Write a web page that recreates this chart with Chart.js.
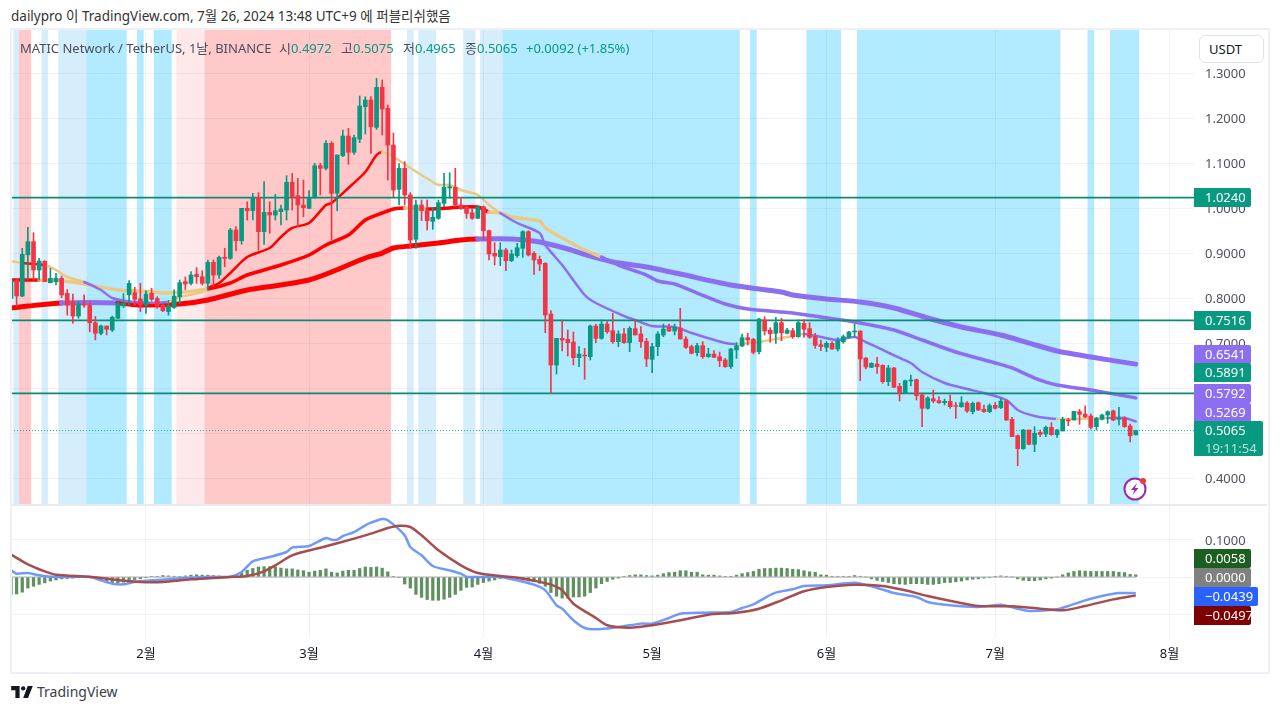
<!DOCTYPE html>
<html lang="ko">
<head>
<meta charset="utf-8">
<title>MATICUSDT</title>
<script src="https://cdn.jsdelivr.net/npm/chart.js@4/dist/chart.umd.js"></script>
<style>
  html, body { margin: 0; padding: 0; background: #fff; }
  body { width: 1280px; height: 712px; position: relative; overflow: hidden;
         font-family: "Noto Sans", "Noto Sans CJK KR", sans-serif; font-size: 13px; color: #131722; }
  canvas { position: absolute; left: 11px; }
  #priceChart { top: 29px; }
  #macdChart { top: 505px; }
  .abs { position: absolute; white-space: nowrap; line-height: 18px; }
  .frame { position: absolute; left: 10px; top: 28px; width: 1256px; height: 642px; border: 2px solid #eef0f6; pointer-events: none; }
  .divider { position: absolute; left: 11px; top: 504px; width: 1256px; height: 2px; background: #e8eaf2; }
  .up { color: #089981; }
  .gray { color: #4a4e5a; }
  .tag { position: absolute; left: 1194px; width: 57px; height: 19px; line-height: 18px; color: #fff; box-sizing: border-box;
         padding-left: 11px; border-radius: 0 2px 2px 0; }
  .usdt { position: absolute; left: 1199px; top: 35px; width: 65px; height: 28px; box-sizing: border-box; border: 1px solid #e0e3eb;
          border-radius: 6px; line-height: 26px; padding-left: 9px; background: #fff; }
</style>
</head>
<body>
<canvas id="priceChart" width="1257" height="475"></canvas>
<canvas id="macdChart" width="1257" height="166"></canvas>
<div class="frame"></div>
<div class="divider"></div>

<div class="abs" style="left:11px;top:7px;color:#333;font-size:13.5px">dailypro 이 TradingView.com, 7월 26, 2024 13:48 UTC+9 에 퍼블리쉬했음</div>
<div class="abs gray" style="left:20px;top:39px">MATIC Network / TetherUS, 1날, BINANCE</div>
<div class="abs" style="left:279px;top:39px"><span class="gray">시</span><span class="up">0.4972</span></div>
<div class="abs" style="left:341px;top:39px"><span class="gray">고</span><span class="up">0.5075</span></div>
<div class="abs" style="left:403px;top:39px"><span class="gray">저</span><span class="up">0.4965</span></div>
<div class="abs" style="left:465px;top:39px"><span class="gray">종</span><span class="up">0.5065</span></div>
<div class="abs up" style="left:526px;top:39px">+0.0092 (+1.85%)</div>

<div class="usdt">USDT</div>

<div class="tag" style="top:188px;background:#089981">1.0240</div>
<div class="tag" style="top:311px;background:#089981">0.7516</div>
<div class="tag" style="top:345px;background:#8c6ff0">0.6541</div>
<div class="tag" style="top:363px;background:#089981">0.5891</div>
<div class="tag" style="top:384px;background:#8c6ff0">0.5792</div>
<div class="tag" style="top:403px;background:#8c6ff0">0.5269</div>
<div class="tag" style="top:421px;width:69px;height:35px;background:#089981">0.5065<br><span style="opacity:.7">19:11:54</span></div>
<div class="tag" style="top:549px;background:#1b5e20">0.0058</div>
<div class="tag" style="top:568px;background:#808080">0.0000</div>
<div class="tag" style="top:587px;width:64px;background:#2962ff">−0.0439</div>
<div class="tag" style="top:606px;background:#7f0000">−0.0497</div>

<svg class="abs" style="left:1123px;top:476px" width="26" height="26" viewBox="0 0 26 26">
  <circle cx="12" cy="13" r="10.5" fill="#fff" stroke="#9c27b0" stroke-width="2"/>
  <path d="M14 7l-6 7h3.5l-2 5 6-7h-3.5z" fill="#9c27b0"/>
  <circle cx="20" cy="5" r="3" fill="#f23645"/>
</svg>

<svg class="abs" style="left:11px;top:686px" width="22" height="12" viewBox="0 0 36 20">
  <path d="M14 20H7V7H0V0h14zM28 20h-8l7.5-20H36z" fill="#131722"/>
  <circle cx="20" cy="4" r="3.6" fill="#131722"/>
</svg>
<div class="abs" style="left:37px;top:683px;font-size:14px;color:#3a3e4a">TradingView</div>

<script>
// daily bars, index 0 = Jan 8 2024, index 200 = Jul 26 2024
const opens = [
  .8003,.841,.8055,.897,.9263,.8633,.8833,.835,.8374,.8448,
  .8115,.793,.761,.7878,.785,.746,.7226,.7389,.73,.756,
  .7833,.808,.8129,.799,.7855,.8115,.8,.7855,.771,.78,
  .804,.8374,.8337,.8537,.8485,.8337,.8804,.8522,.8915,.8892,
  .9522,.9285,1.0004,.9952,1.0248,.9485,.9914,.9855,.9929,.9966,
  1.0581,1.0285,1.0078,1.0004,1.0248,1.0952,1.0892,1.1448,1.0337,1.1174,
  1.1611,1.1248,1.1544,1.2263,1.2411,1.1803,1.2692,1.2226,1.1411,1.0426,
  1.0893,1.03,.9315,1.0078,.9952,.9715,.9781,1.0115,1.0456,1.047,
  1.0078,1.0026,.9907,.9781,1.0041,.9507,.9004,.893,.9078,.8841,
  .8952,.9115,.9485,.9004,.887,.8781,.7656,.6522,.7115,.7093,
  .7033,.6685,.6744,.6707,.7389,.7115,.7433,.7285,.7041,.7211,
  .7019,.733,.7211,.7048,.6648,.693,.7189,.7352,.7278,.7344,
  .71,.693,.6796,.6952,.6707,.6767,.6707,.6633,.6485,.6856,
  .6944,.713,.7093,.6819,.7522,.7296,.7226,.7463,.7226,.7285,
  .7152,.7448,.733,.7152,.6974,.6915,.7004,.6878,.7041,.7137,
  .7256,.7278,.6678,.647,.6544,.6515,.6152,.6456,.6048,.5893,
  .6167,.6196,.5856,.556,.5774,.573,.5685,.5715,.5619,.5596,
  .5678,.5485,.5685,.5537,.5485,.5626,.5574,.5722,.5315,.4952,
  .4663,.5078,.4759,.5026,.4989,.5137,.4974,.5056,.53,.53,
  .5485,.5433,.5389,.5152,.5315,.5411,.55,.5315,.5337,.5167,
  .4972
];
const closes = [
  .841,.8055,.898,.9263,.8633,.8833,.8374,.8448,.8448,.8078,
  .7855,.761,.7878,.785,.746,.7226,.7389,.7315,.7581,.7892,
  .7892,.8337,.798,.7855,.81,.798,.7833,.773,.7833,.8055,
  .8352,.8322,.8522,.8485,.8337,.8804,.8522,.8915,.8892,.9522,
  .9285,1.0004,.9952,1.0248,.9485,.9914,.9855,.9952,.9989,1.0581,
  1.0248,1.0078,1.0018,1.0248,1.0952,1.0892,1.1448,1.0337,1.1189,1.1611,
  1.1248,1.1574,1.2278,1.2411,1.1818,1.2692,1.221,1.1411,1.0411,1.0893,
  1.03,.93,1.0078,.9952,.973,.9804,1.013,1.047,1.0485,1.0078,
  1.0004,.9893,.9781,1.0041,.9507,.8989,.8944,.9078,.8841,.8989,
  .913,.9485,.8967,.8856,.8767,.7633,.6522,.7115,.7078,.7019,
  .6685,.6767,.6722,.7389,.7115,.7433,.7263,.7041,.7211,.7019,
  .7337,.7189,.7041,.6656,.693,.7211,.7322,.7278,.7359,.71,
  .6915,.6781,.6952,.6707,.6767,.6693,.6619,.6485,.6878,.6952,
  .713,.7078,.6804,.7544,.7278,.7219,.7463,.7241,.73,.7152,
  .7463,.7315,.7137,.6959,.693,.7004,.6878,.7056,.7152,.7256,
  .7278,.6656,.6478,.6559,.6485,.6152,.6456,.6026,.5893,.6174,
  .6189,.5841,.556,.5789,.5722,.5685,.5715,.5596,.5604,.5685,
  .55,.567,.5522,.5485,.5619,.556,.5722,.53,.493,.4663,
  .5078,.4759,.5004,.4981,.5137,.4974,.5078,.5315,.5278,.5493,
  .5426,.5367,.5137,.5337,.5411,.5485,.53,.5337,.5152,.4952,
  .5065
];
const highs = [
  .842,.842,.9115,.958,.946,.889,.8833,.867,.856,.85,
  .82,.81,.793,.808,.793,.76,.741,.7389,.761,.793,
  .811,.84,.825,.834,.817,.823,.804,.788,.796,.819,
  .841,.848,.86,.8685,.8618,.8856,.8856,.8944,.9115,.9559,
  .9596,1.0004,1.015,1.0337,1.0352,1.0596,1.015,1.0314,1.0078,1.0729,
  1.0781,1.067,1.0633,1.0396,1.1004,1.1004,1.1507,1.1485,1.1189,1.1744,
  1.1781,1.1633,1.25,1.2485,1.2485,1.2892,1.2855,1.23,1.1678,1.1,
  1.1041,1.0352,1.0189,1.0189,1.0189,1.0026,1.0189,1.0781,1.0796,1.0893,
  1.0248,1.0056,1.0004,1.0056,1.0056,.9522,.9241,.9241,.9115,.9078,
  .9226,.9507,.9507,.9041,.8944,.8796,.773,.7115,.7522,.73,
  .7256,.693,.6893,.7411,.7433,.7522,.7485,.767,.7285,.7337,
  .7374,.7522,.7374,.7115,.7004,.7263,.7433,.7433,.7433,.7781,
  .7152,.6967,.7004,.7041,.6893,.6841,.6811,.667,.6893,.7019,
  .7211,.7226,.7115,.7559,.7596,.7352,.7581,.7559,.7337,.7337,
  .7522,.7537,.7463,.7226,.7078,.7041,.7041,.713,.7189,.727,
  .7433,.7278,.6685,.6574,.6693,.653,.6515,.647,.6115,.6189,
  .63,.6211,.5878,.5819,.5967,.5819,.5767,.5856,.5693,.5819,
  .5707,.57,.57,.5633,.5656,.5693,.5781,.5744,.5359,.4967,
  .5093,.5078,.5152,.5078,.5167,.5241,.5093,.5359,.5337,.5493,
  .5537,.5611,.5433,.5359,.5433,.5507,.5522,.5581,.5374,.5211,
  .5075
];
const lows = [
  .8,.782,.804,.842,.841,.841,.8374,.835,.83,.802,
  .763,.745,.756,.78,.726,.708,.719,.719,.7263,.756,
  .78,.786,.785,.771,.767,.7944,.778,.771,.763,.778,
  .789,.82,.83,.8337,.83,.8204,.8263,.8448,.8707,.887,
  .9063,.9204,.9744,.9744,.9078,.9204,.9448,.9744,.9633,.9744,
  .9966,.9596,.9818,1.0004,1.0226,1.03,1.0855,.93,.995,1.1152,
  1.098,1.1204,1.1463,1.1655,1.1226,1.1759,1.1633,1.0633,1.0263,1.0078,
  1.0078,.9115,.9115,.973,.9522,.9537,.9759,1.004,1.0226,1.004,
  .9981,.9781,.9759,.9774,.93,.8856,.8744,.873,.8619,.8819,
  .8915,.8915,.8944,.8537,.8619,.7241,.5893,.6322,.6833,.6722,
  .6522,.6485,.6204,.6633,.7019,.7093,.7226,.7004,.693,.7004,
  .6819,.7189,.6915,.6485,.6352,.673,.7152,.7263,.7189,.71,
  .6893,.6767,.6722,.667,.6693,.6685,.6485,.647,.6448,.667,
  .693,.6967,.6767,.6767,.7189,.7026,.7,.7063,.7211,.7115,
  .7137,.7137,.7115,.6893,.6841,.6819,.687,.6833,.7004,.713,
  .7152,.6174,.6433,.6463,.6337,.6115,.6063,.6026,.5722,.5893,
  .6056,.5744,.5152,.5537,.5685,.567,.5633,.5559,.5337,.5581,
  .547,.5433,.5507,.547,.5463,.5544,.5552,.5285,.493,.4285,
  .4648,.4744,.4596,.493,.493,.4959,.4915,.5056,.5174,.53,
  .5204,.5352,.51,.5078,.53,.5226,.5285,.5189,.5137,.4811,
  .4965
];

// moving averages, read at the days where the line bends
const ma20Days = [0,2,6,8,10,13,16,18,22,28,30,34,35,37,39,42,46,48,50,53,56,57,60,63,65,66,68,71,75,76,78,80,83,85,87,90,94,95,98,102,104,109,111,114,118,121,127,129,133,135,139,141,144,147,150,152,155,158,160,162,166,170,173,177,179,182,186,189,195,198,200];
const ma20 = [.8833,.8789,.8744,.8633,.8478,.8367,.8189,.8011,.7922,.7922,.8033,.8144,.8233,.8344,.8567,.8922,.9122,.9367,.9567,.9678,1.0078,1.0122,1.0456,1.081,1.1189,1.1255,1.1144,1.09,1.0589,1.0522,1.0522,1.0411,1.03,1.0078,.99,.9678,.9456,.9189,.8744,.8078,.79,.7611,.7522,.7389,.7367,.7233,.7011,.6989,.7033,.7078,.7167,.7211,.7144,.7078,.7144,.7033,.6856,.6678,.6567,.6367,.6122,.5989,.59,.5744,.5522,.5389,.5322,.5322,.5344,.5344,.5269];
const ma50Days = [0,5,9,12,19,23,28,35,39,42,48,53,56,60,63,66,68,70,74,78,80,83,85,87,89,94,95,98,102,105,108,113,115,118,122,127,131,137,139,144,150,157,162,168,175,178,182,186,192,200];
const ma50 = [.8411,.8411,.8389,.8344,.8189,.8167,.8122,.8211,.8344,.8522,.8744,.8967,.9189,.9411,.9744,.99,.9989,1.0011,.9989,1.0011,1.0033,1.0033,.9922,.99,.981,.9722,.9567,.9344,.9078,.8922,.8744,.8522,.8389,.8322,.8122,.7878,.7767,.77,.7678,.7589,.7478,.73,.7078,.6811,.6567,.6456,.6233,.6078,.5967,.5792];
const ma200Days = [0,3,9,19,23,30,35,42,48,53,57,63,66,68,71,76,80,83,89,94,99,103,107,113,119,128,137,139,145,151,157,163,169,176,181,186,192,200];
const ma200 = [.7789,.7833,.79,.79,.7856,.7878,.7967,.8189,.83,.8411,.8589,.89,.901,.9122,.9167,.9233,.93,.9322,.9322,.9256,.91,.8944,.8811,.87,.8544,.83,.8144,.8078,.7989,.7922,.7789,.7567,.7367,.7189,.701,.6833,.67,.6541];

// colour state of each average: state kinds[n] lasts until day ends[n]
const ma20StateEnds = [1,3,13,28,35,66,87,129,141,186,192,200];
const ma20States = ['gold','red','gold','purple','gold','red','gold','purple','gold','purple','gold','purple'];
const ma50StateEnds = [5,30,70,74,85,105,200];
const ma50States = ['red','gold','red','gold','red','gold','purple'];
const ma200StateEnds = [9,19,83,200];
const ma200States = ['red','purple','red','purple'];

const levels = [1.024, .7516, .5891];
const lastPrice = .5065;

// background state bands, in days
const bandStarts = [1,2,6,9,14,23,26,30,35,71,73,81,84,88,132,142,151,192,196];
const bandEnds = [1,3,6,13,20,23,28,34,67,71,75,82,87,129,132,147,186,192,200];
const bandKinds = ['pale','pink','pale','pale','cyan','cyan','cyan','blush','pink','pale','pale','pale','pale','cyan','cyan','cyan','cyan','cyan','cyan'];

// MACD pane
const macdDays = [0,1,3,5,8,14,16,18,20,22,25,28,31,35,39,41,43,46,49,50,53,56,57,58,59,61,63,64,66,67,70,71,73,75,78,80,81,84,87,90,93,95,97,98,100,102,104,108,112,114,117,119,123,128,130,132,134,136,139,141,145,150,153,157,161,163,167,172,176,179,181,186,188,191,194,197,200];
const macdLine = [.018,.009,.0108,.0045,0,0,-.009,-.018,-.0198,-.0135,-.009,-.0063,-.0027,0,.0009,.0135,.0423,.054,.0676,.0793,.0838,.1054,.1009,.1009,.1108,.1216,.1396,.1468,.1568,.1532,.1126,.0811,.0586,.0297,.018,.009,.0009,0,0,-.009,-.0207,-.036,-.0766,-.0856,-.117,-.1378,-.1414,-.135,-.126,-.126,-.1108,-.0991,-.0964,-.0946,-.0838,-.0739,-.0568,-.0423,-.0333,-.0243,-.0225,-.0153,-.0252,-.0432,-.0541,-.0676,-.0766,-.0811,-.0748,-.0856,-.0919,-.0874,-.0784,-.0631,-.0514,-.0432,-.0439];
const signalDays = [0,3,6,8,14,18,23,27,32,39,42,45,47,50,56,61,64,67,69,71,73,76,80,83,87,90,93,96,98,100,104,106,110,114,119,124,129,133,137,141,145,150,155,159,163,168,172,178,183,187,191,196,200];
const signalLine = [.0604,.0342,.0153,.0063,.0009,-.0063,-.0135,-.0135,-.0063,0,.0027,.0153,.0315,.0586,.0829,.1036,.1171,.1324,.1387,.1351,.1126,.0721,.0315,.0108,.0027,-.0018,-.0099,-.0207,-.036,-.0721,-.1108,-.1306,-.1369,-.1306,-.1171,-.1018,-.0964,-.0856,-.0631,-.0387,-.027,-.0207,-.0243,-.036,-.0514,-.0676,-.0784,-.0793,-.0856,-.0901,-.0784,-.0604,-.0497];
const histogram = [
  -.047,-.046,-.041,-.03,-.025,-.02,-.016,-.011,-.008,-.005,
  -.004,-.003,-.002,-.002,-.001,-.004,-.008,-.013,-.017,-.016,
  -.014,-.011,-.007,-.005,-.002,.001,.002,.004,.003,.002,
  .001,.003,.005,.006,.005,.005,.004,.003,.002,.002,
  .003,.012,.018,.023,.027,.028,.028,.027,.024,.022,
  .022,.019,.017,.013,.016,.018,.022,.013,.011,.016,
  .018,.018,.023,.027,.026,.027,.024,.014,.001,-.001,
  -.019,-.03,-.047,-.055,-.061,-.063,-.063,-.06,-.055,-.047,
  -.036,-.028,-.027,-.02,-.015,-.011,-.008,-.004,-.002,-.005,
  -.006,-.009,-.011,-.013,-.017,-.025,-.042,-.052,-.057,-.057,
  -.054,-.054,-.052,-.042,-.03,-.018,-.012,-.006,-.003,.001,
  .004,.006,.006,.004,.003,.005,.009,.012,.013,.017,
  .017,.013,.013,.006,.005,.005,.003,.001,.002,.005,
  .009,.012,.015,.021,.023,.023,.024,.024,.023,.021,
  .02,.017,.014,.013,.006,.005,.002,.002,.002,.001,
  .004,.002,0,-.005,-.009,-.012,-.015,-.018,-.019,-.02,
  -.018,-.018,-.018,-.02,-.02,-.018,-.015,-.015,-.013,-.011,
  -.008,-.006,-.005,-.003,-.001,.001,.003,.002,0,-.005,
  -.009,-.01,-.01,-.008,-.005,-.003,0,.006,.011,.015,
  .017,.016,.015,.015,.015,.015,.015,.013,.012,.007,
  .0058
];

const priceTicks = [1.3,1.2,1.1,1,.9,.8,.7,.6,.5,.4];
const macdTicks = [.1,0,-.1];
const monthTicks = [24,53,84,114,145,175,206];
const monthLabels = ['2월','3월','4월','5월','6월','7월','8월'];

const UP = '#089981';
const DOWN = '#f23645';
const GRID = 'rgba(42,46,120,0.06)';
const LEVEL = '#0d8a72';
const stateColor = { red: '#ff0000', gold: '#ecc983', purple: '#8c6ff0' };
const bandColor = { cyan: '#b2ebff', pale: '#d6eefc', pink: '#ffc9c9', blush: '#ffe8ea' };

const LAST_DAY = 200;
const LAST_X = 210.35;
const PRICE_MAX = 1.39889, PRICE_MIN = .34333;
const MACD_MAX = .19459, MACD_MIN = -.16486;
const FONT = { family: '"Noto Sans", "Noto Sans CJK KR", sans-serif', size: 13 };

const days = opens.map((_, i) => i);

function zip(xs, ys) {
  return xs.map((x, i) => ({ x, y: ys[i] }));
}

function stateAt(day, ends, states) {
  const n = ends.findIndex(e => day < e);
  return stateColor[states[n < 0 ? states.length - 1 : n]];
}

function maDataset(label, xs, ys, width, ends, states, order) {
  return {
    type: 'line', label, data: zip(xs, ys), order,
    borderWidth: width, pointRadius: 0, tension: 0.25,
    borderCapStyle: 'round', borderJoinStyle: 'round',
    borderColor: stateAt(0, ends, states),
    segment: { borderColor: ctx => stateAt(ctx.p0.parsed.x, ends, states) },
  };
}

function flatLine(label, y, end, color, width, order, dash) {
  return {
    type: 'line', label, data: [{ x: 0, y }, { x: end, y }], order,
    borderColor: color, borderWidth: width, pointRadius: 0, borderDash: dash || [],
  };
}

function xAxis(showLabels) {
  return {
    type: 'linear', min: 0, max: LAST_X, offset: false,
    grid: { color: GRID, drawTicks: false, offset: false, z: 1 },
    border: { display: false },
    afterBuildTicks: s => { s.ticks = monthTicks.map(value => ({ value })); },
    afterFit: s => {
      s.height = showLabels ? 33 : 0;
      s.paddingLeft = s.paddingRight = 0;
    },
    ticks: {
      display: showLabels, autoSkip: false, maxRotation: 0, padding: 8,
      color: '#131722', font: FONT,
      callback: v => monthLabels[monthTicks.indexOf(v)],
    },
  };
}

function yAxis(min, max, tickValues) {
  return {
    type: 'linear', position: 'right', min, max,
    grid: { color: GRID, drawTicks: false, z: 1 },
    border: { display: false },
    afterBuildTicks: s => { s.ticks = tickValues.map(value => ({ value })); },
    afterFit: s => {
      s.width = 74;
      s.paddingTop = s.paddingBottom = 0;
    },
    ticks: {
      autoSkip: false, padding: 11, labelOffset: 1, color: '#50535e', font: FONT,
      callback: v => v.toFixed(4),
    },
  };
}

const baseOptions = {
  responsive: false,
  animation: false,
  events: [],
  layout: { padding: 0 },
  plugins: { legend: { display: false }, tooltip: { enabled: false } },
};

// one full-height bar for every day inside a band
const bandBars = [];
const bandBarColors = [];
bandStarts.forEach((start, n) => {
  for (let d = start; d <= bandEnds[n]; d++) {
    bandBars.push({ x: d, y: [PRICE_MIN, PRICE_MAX] });
    bandBarColors.push(bandColor[bandKinds[n]]);
  }
});

const candleColors = days.map(i => (closes[i] >= opens[i] ? UP : DOWN));

new Chart(document.getElementById('priceChart'), {
  type: 'bar',
  data: {
    datasets: [
      { label: 'bands', data: bandBars, backgroundColor: bandBarColors, barThickness: 5.9, grouped: false, order: 20 },
      maDataset('MA200', ma200Days, ma200, 5, ma200StateEnds, ma200States, 9),
      maDataset('MA50', ma50Days, ma50, 3.5, ma50StateEnds, ma50States, 8),
      maDataset('MA20', ma20Days, ma20, 2.5, ma20StateEnds, ma20States, 7),
      ...levels.map((v, n) => flatLine('level' + n, v, LAST_X, LEVEL, 1.7, 5)),
      flatLine('last', lastPrice, LAST_X, '#0fb39a', 1, 4, [1, 2]),
      {
        label: 'wicks', data: days.map(i => ({ x: i, y: [lows[i], highs[i]] })),
        backgroundColor: candleColors, barThickness: 1, grouped: false, order: 2,
      },
      {
        label: 'bodies', data: days.map(i => ({ x: i, y: [opens[i], closes[i]] })),
        backgroundColor: candleColors, barThickness: 4, grouped: false, order: 1,
      },
    ],
  },
  options: { ...baseOptions, scales: { x: xAxis(false), y: yAxis(PRICE_MIN, PRICE_MAX, priceTicks) } },
});

new Chart(document.getElementById('macdChart'), {
  type: 'bar',
  data: {
    datasets: [
      {
        label: 'hist', data: days.map(i => ({ x: i, y: histogram[i] })),
        backgroundColor: '#5f9160', barThickness: 2.6, grouped: false, order: 5,
      },
      flatLine('zero', 0, LAST_DAY, '#b0b0b0', 1, 4),
      {
        type: 'line', label: 'macd', data: zip(macdDays, macdLine), order: 3,
        borderColor: '#7099ff', borderWidth: 2.5, pointRadius: 0, tension: 0.25,
      },
      {
        type: 'line', label: 'signal', data: zip(signalDays, signalLine), order: 2,
        borderColor: '#a64d4d', borderWidth: 2.5, pointRadius: 0, tension: 0.25,
      },
    ],
  },
  options: { ...baseOptions, scales: { x: xAxis(true), y: yAxis(MACD_MIN, MACD_MAX, macdTicks) } },
});
</script>
</body>
</html>
